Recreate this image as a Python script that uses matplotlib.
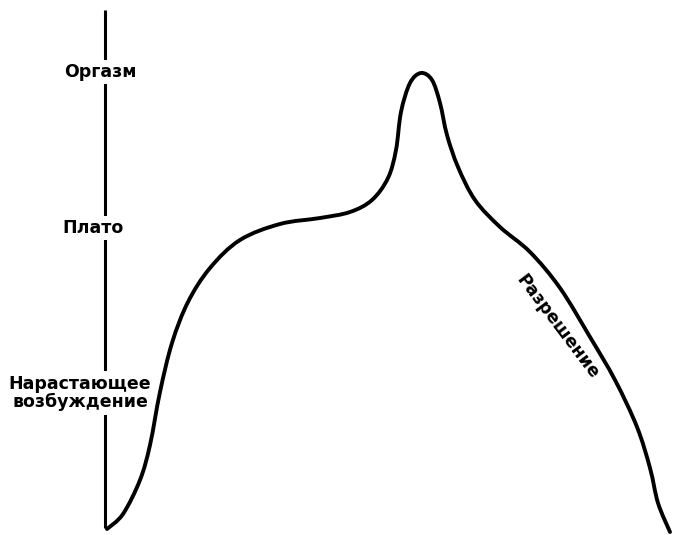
import matplotlib.pyplot as plt
from matplotlib.path import Path
from matplotlib.patches import PathPatch

# Sexual response cycle: arousal level over time (arbitrary units,
# time measured from the vertical axis, level from the baseline)
time = [2, 18, 35, 45, 55, 67, 83, 105, 135, 175, 215, 245, 267, 283,
        291, 296, 305, 316, 327, 335, 342, 353, 370, 395, 425, 455, 485,
        510, 532, 545, 553, 565]
level = [-1, 14, 48, 83, 136, 185, 226, 260, 288, 304, 310, 316, 328,
         350, 378, 416, 445, 455, 448, 425, 393, 361, 328, 301, 276, 240,
         191, 148, 101, 60, 25, -4]

phase_labels = ['Оргазм', 'Плато', 'Нарастающее\nвозбуждение', 'Разрешение']

fig = plt.figure(figsize=(6.73, 5.35), dpi=100)
ax = fig.add_axes([0, 0, 1, 1])
ax.set_xlim(-105, 568)
ax.set_ylim(-7, 528)
ax.axis('off')

# vertical axis
ax.plot([0, 0], [0, 518], color='black', lw=2.2, solid_capstyle='butt', zorder=1)

# smooth curve through the sampled points (Catmull-Rom as cubic beziers)
pts = list(zip(time, level))
verts = [pts[0]]
codes = [Path.MOVETO]
for i in range(len(pts) - 1):
    p0 = pts[max(i - 1, 0)]
    p1 = pts[i]
    p2 = pts[i + 1]
    p3 = pts[min(i + 2, len(pts) - 1)]
    c1 = (p1[0] + (p2[0] - p0[0]) / 6, p1[1] + (p2[1] - p0[1]) / 6)
    c2 = (p2[0] - (p3[0] - p1[0]) / 6, p2[1] - (p3[1] - p1[1]) / 6)
    verts += [c1, c2, p2]
    codes += [Path.CURVE4] * 3
ax.add_patch(PathPatch(Path(verts, codes), facecolor='none', edgecolor='black',
                       lw=2.8, capstyle='round', joinstyle='round', zorder=3))

font = dict(fontsize=12.5, fontweight='bold', family='DejaVu Sans', color='black')
box = dict(facecolor='white', edgecolor='none', pad=2.5)

ax.text(-41, 456, phase_labels[0], ha='left', va='center', bbox=box, zorder=2, **font)
ax.text(-43, 300, phase_labels[1], ha='left', va='center', bbox=box, zorder=2, **font)
ax.text(-25, 135, phase_labels[2], ha='center', va='center', linespacing=1.05,
        multialignment='center', bbox=box, zorder=2, **font)
ax.text(452, 201, phase_labels[3], ha='center', va='center', rotation=-53,
        rotation_mode='anchor', **font)

fig.savefig('out.png', dpi=100, facecolor='white')
